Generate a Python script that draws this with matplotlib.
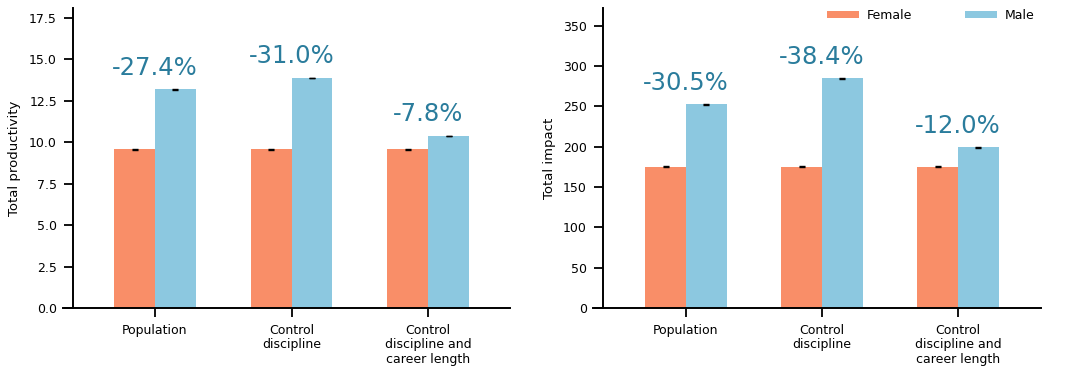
import matplotlib.pyplot as plt
import numpy as np

categories = ["Population", "Control\ndiscipline", "Control\ndiscipline and\ncareer length"]

productivity_female = [9.57, 9.57, 9.57]
productivity_male = [13.18, 13.87, 10.38]
productivity_err = [0.02, 0.02, 0.02]
productivity_gap = ["-27.4%", "-31.0%", "-7.8%"]

impact_female = [175.3, 175.3, 175.3]
impact_male = [252.3, 284.7, 199.3]
impact_err = [0.6, 0.6, 0.6]
impact_gap = ["-30.5%", "-38.4%", "-12.0%"]

female_color = "#f98e68"
male_color = "#8cc8e0"
text_color = "#2a7c9c"

fig = plt.figure(figsize=(10.8, 3.7), dpi=100)
ax1 = fig.add_axes([0.0583, 0.1676, 0.4139, 0.811])
ax2 = fig.add_axes([0.549, 0.1676, 0.4148, 0.811])

x = np.arange(len(categories))
w = 0.3


def draw(ax, female, male, err, gaps, ylabel, ylim, yticks, xlim, spine_x, pad):
    ax.bar(x - w / 2, female, w, color=female_color, label="Female")
    ax.bar(x + w / 2, male, w, color=male_color, label="Male")
    ax.errorbar(x - w / 2, female, yerr=err, fmt="none", ecolor="black",
                elinewidth=1, capsize=2.5, capthick=1)
    ax.errorbar(x + w / 2, male, yerr=err, fmt="none", ecolor="black",
                elinewidth=1, capsize=2.5, capthick=1)
    for xi, m, g in zip(x, male, gaps):
        ax.annotate(g, xy=(xi, m), xytext=(0, 7), textcoords="offset points",
                    ha="center", va="bottom", fontsize=17.5, color=text_color)
    ax.set_xlim(*xlim)
    ax.set_ylim(*ylim)
    ax.set_yticks(yticks)
    ax.set_xticks(x)
    ax.set_xticklabels(categories, fontsize=9, linespacing=1.15)
    ax.set_ylabel(ylabel, fontsize=9.5, labelpad=pad)
    ax.spines["top"].set_visible(False)
    ax.spines["right"].set_visible(False)
    ax.spines["left"].set_position(("data", spine_x))
    ax.spines["left"].set_linewidth(1.4)
    ax.spines["bottom"].set_linewidth(1.4)
    ax.tick_params(axis="both", labelsize=9, length=6.5, width=1.3, pad=5)


draw(ax1, productivity_female, productivity_male, productivity_err, productivity_gap,
     "Total productivity", (0, 18.1), np.arange(0, 17.6, 2.5), (-0.674, 2.6), -0.601, 6)
ax1.set_yticklabels(["%.1f" % t for t in np.arange(0, 17.6, 2.5)])

draw(ax2, impact_female, impact_male, impact_err, impact_gap,
     "Total impact", (0, 372), np.arange(0, 351, 50), (-0.684, 2.61), -0.61, 5)

ax2.legend(loc="upper right", bbox_to_anchor=(1.011, 1.035), ncol=2, frameon=False,
           fontsize=9, handlelength=2.6, handleheight=0.5, columnspacing=4.2,
           handletextpad=0.6)

fig.savefig("out.png", dpi=100)
